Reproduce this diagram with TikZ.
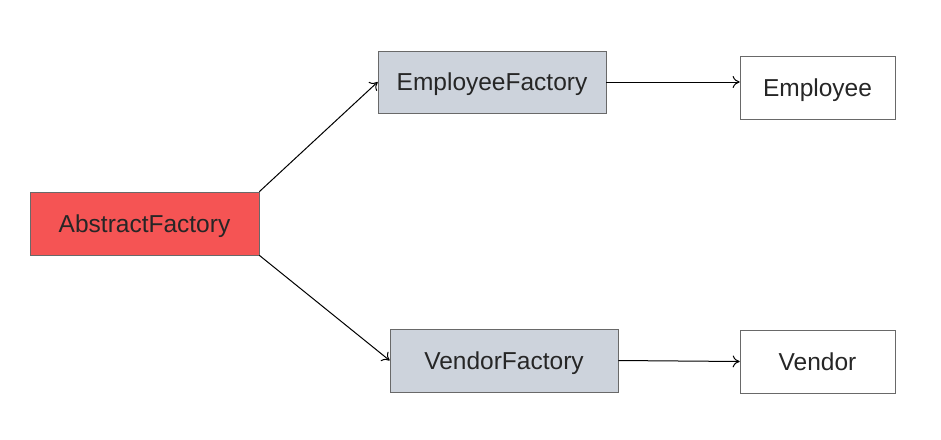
\documentclass[tikz,border=0pt]{standalone}
\usepackage{fontspec}
\setmainfont{Liberation Sans}
\usetikzlibrary{positioning, arrows, arrows.meta, shapes, calc}
\definecolor{abstractred}{RGB}{245,84,84}
\definecolor{factorygray}{RGB}{205,211,220}
\definecolor{boxline}{RGB}{105,105,105}

\begin{document}
\begin{tikzpicture}[x=1pt, y=-1pt,
        box/.style={rectangle, draw=boxline, line width=0.7pt, inner sep=0pt,
            minimum height=63pt, text height=18pt, text depth=1pt,
            text=black!85, font=\fontsize{24.5}{29}\selectfont},
        factory/.style={box, fill=factorygray, minimum width=228pt},
        product/.style={box, fill=white, minimum width=155pt}]
    \useasboundingbox (0,0) rectangle (941,439);

    \node[box, fill=abstractred, minimum width=229pt] (abstract) at (144.5,223.5) {AbstractFactory};
    \node[factory, minimum height=62pt] (empfac) at (492,82) {EmployeeFactory};
    \node[factory] (venfac) at (504,360.5) {VendorFactory};
    \node[product] (emp) at (817.5,87.5) {Employee};
    \node[product] (ven) at (817.5,361.5) {Vendor};

    \path[-{To[length=7pt, width=12pt, line width=1pt]}, line width=1pt]
        (abstract.north east) edge (empfac.west)
        (abstract.south east) edge (venfac.west)
        (empfac.east) edge (empfac.east -| emp.west)
        (venfac.east) edge (ven.west)
    ;

\end{tikzpicture}
\end{document}
